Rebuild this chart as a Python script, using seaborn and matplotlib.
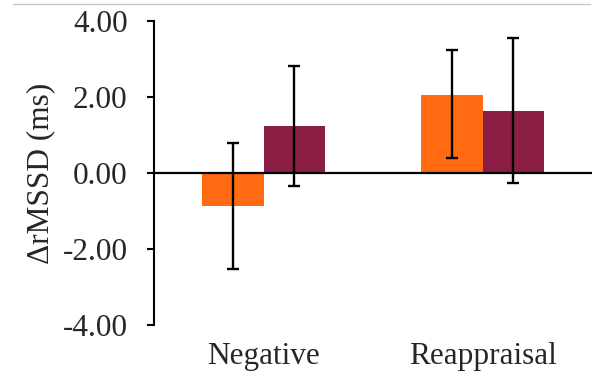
import matplotlib
matplotlib.use("Agg")
import matplotlib.pyplot as plt
import seaborn as sns
import pandas as pd
import numpy as np
from matplotlib.lines import Line2D

categories = ["Negative", "Reappraisal"]
series = ["A", "B"]
values_a = [-0.86, 2.05]
values_b = [1.24, 1.64]
err_low_a = [-2.52, 0.40]
err_high_a = [0.80, 3.24]
err_low_b = [-0.33, -0.27]
err_high_b = [2.82, 3.56]
yticks = [-4, -2, 0, 2, 4]
colors = ["#FF6A13", "#8A1E45"]

df = pd.DataFrame({
    "cat": categories * 2,
    "series": [series[0]] * 2 + [series[1]] * 2,
    "val": values_a + values_b,
})

sns.set_style("white")
plt.rcParams["font.family"] = ["Liberation Serif", "DejaVu Serif"]
plt.rcParams["font.size"] = 22.5

fig = plt.figure(figsize=(5.96, 3.85), dpi=100)
ax = fig.add_axes([154 / 596, 1 - 325 / 385, (592 - 154) / 596, (325 - 21) / 385])

sns.barplot(data=df, x="cat", y="val", hue="series", order=categories,
            hue_order=series, palette=colors, width=0.56, gap=0,
            saturation=1, errorbar=None, legend=False, ax=ax, linewidth=0)

# error bars at bar centers
lows = err_low_a + err_low_b
highs = err_high_a + err_high_b
vals = values_a + values_b
patches = [p for p in ax.patches]
for p, v, lo, hi in zip(patches, vals, lows, highs):
    xc = p.get_x() + p.get_width() / 2
    ax.errorbar([xc], [v], yerr=[[v - lo], [hi - v]], fmt="none",
                ecolor="black", elinewidth=1.7, capsize=4.6, capthick=1.7,
                zorder=5)

ax.axhline(0, color="black", linewidth=1.6, zorder=6)
ax.set_xlim(-0.5, 1.5)
ax.set_ylim(-4, 4)
ax.set_yticks(yticks)
ax.set_yticklabels([f"{t:.2f}" for t in yticks])
ax.set_xlabel("")
ax.set_ylabel("ΔrMSSD (ms)", labelpad=5)

for s in ["top", "right", "bottom"]:
    ax.spines[s].set_visible(False)
ax.spines["left"].set_color("black")
ax.spines["left"].set_linewidth(1.5)
ax.tick_params(axis="y", direction="out", length=5, width=1.5, color="black",
               left=True, pad=14)
ax.tick_params(axis="x", length=0, pad=12)

fig.add_artist(Line2D([13 / 596, 590 / 596], [1 - 4 / 385, 1 - 4 / 385],
                      color="#c8c8c8", linewidth=1.0, transform=fig.transFigure))

fig.savefig("out.png", dpi=100)
